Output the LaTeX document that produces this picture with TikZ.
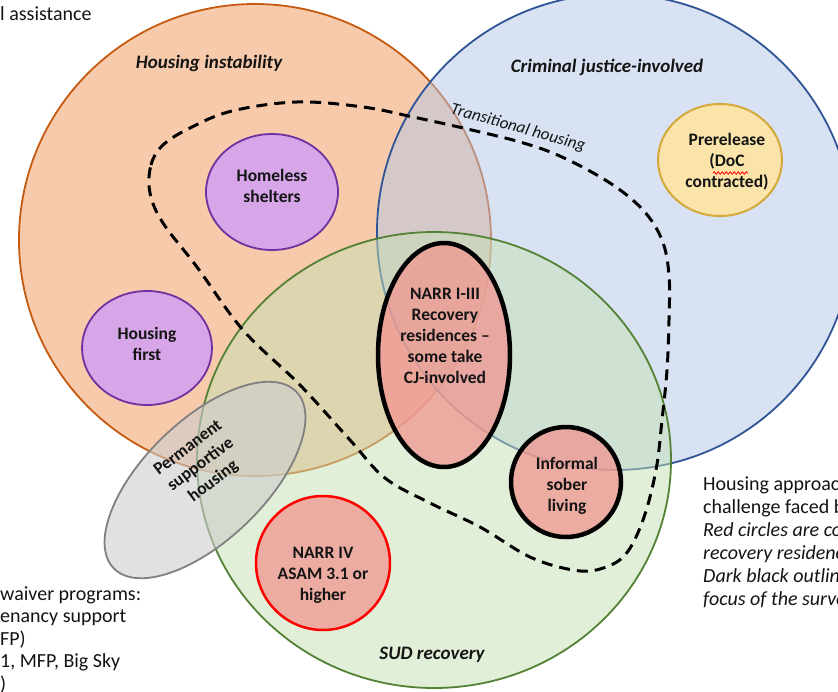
\documentclass[tikz,border=0pt]{standalone}
\usepackage{fontspec}
\setmainfont{Carlito}
\usetikzlibrary{positioning,shapes.geometric,decorations.pathmorphing}

\definecolor{instfill}{RGB}{241,151,91}
\definecolor{instline}{RGB}{197,90,17}
\definecolor{cjfill}{RGB}{181,199,231}
\definecolor{cjline}{RGB}{47,85,151}
\definecolor{sudfill}{RGB}{197,225,179}
\definecolor{sudline}{RGB}{84,130,53}
\definecolor{purplefill}{RGB}{214,166,232}
\definecolor{purpleline}{RGB}{112,48,160}
\definecolor{pinkfill}{RGB}{242,150,145}
\definecolor{goldfill}{RGB}{251,228,170}
\definecolor{goldline}{RGB}{212,168,58}
\definecolor{psfill}{RGB}{205,205,205}
\definecolor{psline}{RGB}{128,128,128}
\definecolor{ink}{RGB}{20,20,20}

\tikzset{
  bigset/.style={line width=1.8pt, fill opacity=0.5},
  settitle/.style={font=\fontsize{19}{22}\selectfont\bfseries\itshape, text=ink},
  blobtext/.style={font=\fontsize{17.5}{21}\selectfont\bfseries, align=center, text=ink},
  purpleblob/.style={fill=purplefill, draw=purpleline, line width=1.8pt},
  pinkblob/.style={fill=pinkfill, fill opacity=0.75},
  sidetext/.style={font=\fontsize{20}{23}\selectfont, text=ink, anchor=base west, inner sep=0pt},
}

\begin{document}
\begin{tikzpicture}[x=1pt, y=-1pt]
\useasboundingbox (0,0) rectangle (838,691);
\clip (0,0) rectangle (838,691);
\fill[white] (0,0) rectangle (838,691);

% Three overlapping populations
\filldraw[bigset, fill=instfill, draw=instline] (255,240) circle (236);
\filldraw[bigset, fill=cjfill, draw=cjline] (615,232) circle (238);
\filldraw[bigset, fill=sudfill, draw=sudline] (434,460) ellipse (237 and 228);

% Transitional housing boundary
\draw[line width=3pt, dash pattern=on 11pt off 7pt] plot[smooth cycle, tension=0.6] coordinates {
  (150,193) (151,165) (163,145) (190,128) (232,111) (297,102) (363,107) (413,117)
  (463,128) (520,142) (562,157) (610,183) (643,210) (662,240) (669,275) (669,320)
  (667,370) (662,420) (656,470) (643,520) (625,555) (600,569) (573,570) (530,557)
  (480,527) (430,503) (385,478) (350,440) (300,385) (243,330) (197,267) (163,223)};

% Permanent supportive housing
\filldraw[fill=psfill, fill opacity=0.6, draw=psline, line width=1.8pt,
  rotate around={44:(205,480)}] (205,480) ellipse (127 and 60);

% Housing programs
\filldraw[purpleblob] (272,192) ellipse (66 and 58);
\filldraw[purpleblob] (147,348) ellipse (65 and 57);

% Recovery residences
\filldraw[pinkblob, draw=black, line width=4.5pt] (444,355) ellipse (66 and 112);
\filldraw[pinkblob, draw=black, line width=4.5pt] (566,482) circle (55);
\filldraw[pinkblob, draw=red, line width=2.5pt] (323,563) circle (67);

% Prerelease
\filldraw[fill=goldfill, draw=goldline, line width=2pt] (720,160) ellipse (62 and 56);

% Set titles
\node[settitle] (inst-title) at (209,63) {Housing instability};
\node[settitle] (cj-title) at (607,67) {Criminal justice-involved};
\node[settitle] (sud-title) at (432,655) {SUD recovery};
\node[font=\fontsize{17}{20}\selectfont\itshape, text=ink, rotate=-15.5] (trans-label) at (518,128) {Transitional housing};

% Labels inside the shapes
\node[blobtext] (shelters-txt) at (272,186) {Homeless\\shelters};
\node[blobtext] (hfirst-txt) at (147,344) {Housing\\first};
\node[blobtext] (narr13-txt) at (445,336) {NARR I-III\\Recovery\\residences –\\some take\\CJ-involved};
\node[blobtext] (sober-txt) at (567,486) {Informal\\sober\\living};
\node[blobtext] (narr4-txt) at (323,575) {NARR IV\\ASAM 3.1 or\\higher};
\node[blobtext] (prerel-txt) at (727,162) {Prerelease\\(DoC\\contracted)};
\node[blobtext, rotate=37] (psh-txt) at (201,465) {Permanent\\supportive\\housing};
\draw[red, line width=0.8pt, decorate, decoration={snake, amplitude=1.2pt, segment length=4pt}]
  (713,173) -- (748,173);

% Side notes
\node[sidetext] (top-note) at (0,20) {l assistance};
\foreach \i/\txt in {0/waiver programs:, 1/enancy support, 2/FP), 3/{1, MFP, Big Sky}, 4/)}
  \node[sidetext] (waiver-\i) at (0,600+22.5*\i) {\txt};
\foreach \i/\txt in {0/Housing approac, 1/challenge faced b, 2/\itshape Red circles are co,
  3/\itshape recovery residenc, 4/\itshape Dark black outlin, 5/\itshape focus of the surve}
  \node[sidetext] (note-\i) at (703,490+23*\i) {\txt};
\end{tikzpicture}
\end{document}
